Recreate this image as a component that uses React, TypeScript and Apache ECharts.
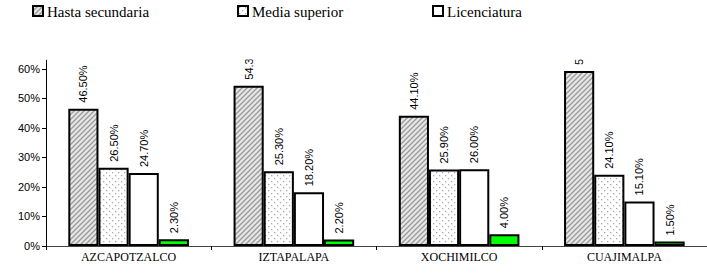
import React, { useEffect, useRef } from "react";
import * as echarts from "echarts";

const categories = ["AZCAPOTZALCO", "IZTAPALAPA", "XOCHIMILCO", "CUAJIMALPA"];
const seriesNames = ["Hasta secundaria", "Media superior", "Licenciatura", "Posgrado"];
const hastaSecundaria = [46.5, 54.3, 44.1, 59.3];
const mediaSuperior = [26.5, 25.3, 25.9, 24.1];
const licenciatura = [24.7, 18.2, 26.0, 15.1];
const posgrado = [2.3, 2.2, 4.0, 1.5];
const legendNames = ["Hasta secundaria", "Media superior", "Licenciatura"];

function hatchPattern() {
  const s = 5;
  const c = document.createElement("canvas");
  c.width = s;
  c.height = s;
  const g = c.getContext("2d")!;
  g.fillStyle = "#e6e6e6";
  g.fillRect(0, 0, s, s);
  g.strokeStyle = "#9a9a9a";
  g.lineWidth = 1.3;
  g.beginPath();
  g.moveTo(0, s);
  g.lineTo(s, 0);
  g.moveTo(-1, 1);
  g.lineTo(1, -1);
  g.moveTo(s - 1, s + 1);
  g.lineTo(s + 1, s - 1);
  g.stroke();
  return { image: c, repeat: "repeat" };
}

function dotPattern() {
  const s = 6;
  const c = document.createElement("canvas");
  c.width = s;
  c.height = s;
  const g = c.getContext("2d")!;
  g.fillStyle = "#ffffff";
  g.fillRect(0, 0, s, s);
  g.fillStyle = "#a8a8a8";
  g.fillRect(1, 1, 1.3, 1.3);
  g.fillRect(4, 4, 1.3, 1.3);
  return { image: c, repeat: "repeat" };
}

export default function App() {
  const ref = useRef<HTMLDivElement>(null);
  useEffect(() => {
    if (!ref.current) return;
    const chart = echarts.init(ref.current, undefined, { renderer: "svg" });
    const fills: any[] = [hatchPattern(), dotPattern(), "#ffffff", "#00ff00"];
    const datas = [hastaSecundaria, mediaSuperior, licenciatura, posgrado];
    const legendLefts = [33, 238, 433];
    const legendGraphics: any[] = [];
    legendNames.forEach((n, i) => {
      legendGraphics.push({
        type: "rect",
        x: legendLefts[i],
        y: 6,
        z: 110,
        shape: { x: 0, y: 0, width: 10, height: 10 },
        style: { fill: fills[i], stroke: "#000", lineWidth: 2 },
      });
      legendGraphics.push({
        type: "text",
        x: legendLefts[i] + 14,
        y: 11.5,
        z: 110,
        style: {
          text: n,
          fontFamily: "Liberation Serif",
          fontSize: 15,
          fill: "#000",
          verticalAlign: "middle",
          align: "left",
        },
      });
    });
    chart.setOption({
      animation: false,
      backgroundColor: "#ffffff",
      grid: { left: 46, right: -9, top: 60, bottom: 29, containLabel: false },
      xAxis: {
        type: "category",
        data: categories,
        axisLine: { lineStyle: { color: "#444", width: 1 } },
        axisTick: { show: true, length: 4, lineStyle: { color: "#000" } },
        axisLabel: { fontFamily: "Liberation Serif", fontSize: 12, color: "#000", margin: 5 },
      },
      yAxis: {
        type: "value",
        min: 0,
        max: 63,
        interval: 10,
        splitLine: { show: false },
        axisLine: { show: true, lineStyle: { color: "#000", width: 1 } },
        axisTick: { show: true, length: 4, lineStyle: { color: "#000" } },
        axisLabel: {
          fontFamily: "Liberation Sans",
          fontSize: 11,
          color: "#000",
          margin: 6,
          showMaxLabel: false,
          formatter: (v: number) => (v > 60 ? "" : v + "%"),
        },
      },
      series: seriesNames.map((n, i) => ({
        name: n,
        type: "bar",
        data: datas[i],
        barGap: "0%",
        barCategoryGap: "27%",
        itemStyle: { color: fills[i], borderColor: "#000", borderWidth: 2 },
        label: {
          show: true,
          position: "top",
          rotate: 90,
          align: "left",
          verticalAlign: "middle",
          distance: 6,
          fontFamily: "Liberation Sans",
          fontSize: 11,
          color: "#000",
          formatter: (p: any) => p.value.toFixed(2) + "%",
        },
      })),
      graphic: [
        {
          type: "rect",
          left: 0,
          top: 22,
          z: 100,
          shape: { width: 707, height: 37.5 },
          style: { fill: "#ffffff" },
        },
        ...legendGraphics,
      ],
    });
    return () => chart.dispose();
  }, []);
  return (
    <div
      ref={ref}
      style={{ position: "fixed", left: 0, top: 0, width: 707, height: 275 }}
    />
  );
}
